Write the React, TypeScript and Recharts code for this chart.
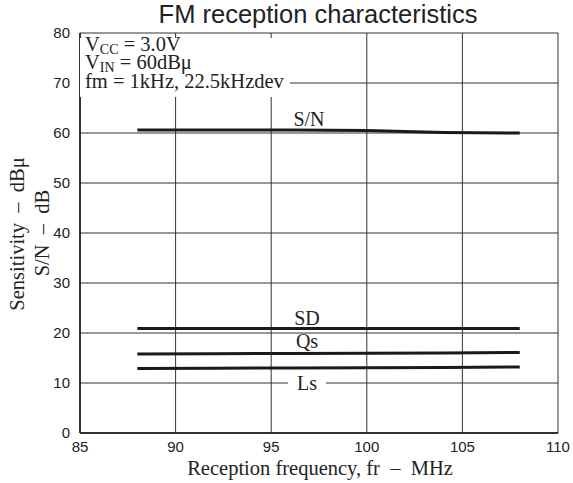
import { LineChart, Line, XAxis, YAxis, CartesianGrid } from "recharts";

const FREQ = [88, 92, 96, 100, 104, 108];
const SN = [60.6, 60.6, 60.6, 60.5, 60.1, 60.0];
const SD = [20.9, 20.9, 20.9, 20.9, 20.9, 20.9];
const QS = [15.8, 15.85, 15.9, 15.95, 16.0, 16.1];
const LS = [12.9, 12.95, 13.0, 13.05, 13.1, 13.2];

const X_TICKS = [85, 90, 95, 100, 105, 110];
const Y_TICKS = [0, 10, 20, 30, 40, 50, 60, 70, 80];

const chartData = FREQ.map((f, i) => ({
  freq: f,
  sn: SN[i],
  sd: SD[i],
  qs: QS[i],
  ls: LS[i],
}));

const SERIF = "'Liberation Serif', 'Times New Roman', serif";
const SANS = "'Liberation Sans', Arial, sans-serif";
const INK = "#1a1a1a";
const NB = "\u00a0";

export default function App() {
  return (
    <div style={{ position: "absolute", left: 0, top: 0, width: 573, height: 483, background: "#fff" }}>
      <LineChart
        width={573}
        height={483}
        data={chartData}
        margin={{ top: 33, right: 15, bottom: 0, left: 0 }}
      >
        <CartesianGrid stroke="#333" strokeWidth={1} />
        <XAxis
          dataKey="freq"
          type="number"
          domain={[85, 110]}
          ticks={X_TICKS}
          height={50}
          tickLine={false}
          axisLine={{ stroke: "#111", strokeWidth: 1.5 }}
          tick={{ fill: "#222", fontSize: 15, fontFamily: SANS }}
          tickMargin={2}
        />
        <YAxis
          type="number"
          domain={[0, 80]}
          ticks={Y_TICKS}
          width={80}
          tickLine={false}
          axisLine={{ stroke: "#111", strokeWidth: 1.5 }}
          tick={{ fill: "#222", fontSize: 15, fontFamily: SANS }}
          tickMargin={4}
        />
        <Line dataKey="sn" stroke={INK} strokeWidth={3} dot={false} isAnimationActive={false} />
        <Line dataKey="sd" stroke={INK} strokeWidth={3} dot={false} isAnimationActive={false} />
        <Line dataKey="qs" stroke={INK} strokeWidth={3} dot={false} isAnimationActive={false} />
        <Line dataKey="ls" stroke={INK} strokeWidth={3} dot={false} isAnimationActive={false} />
      </LineChart>
      <svg
        width={573}
        height={483}
        style={{ position: "absolute", left: 0, top: 0, pointerEvents: "none" }}
      >
        <text x={318} y={23} textAnchor="middle" fontFamily={SANS} fontSize={25.5} fill="#222">
          FM reception characteristics
        </text>

        {/* condition box, covers the grid behind it */}
        <rect x={80} y={38} width={210} height={59} fill="#fff" />
        <g fontFamily={SERIF} fontSize={20.5} fill="#222">
          <text x={85} y={51}>
            V<tspan fontSize={14} dy={3}>CC</tspan>
            <tspan dy={-3}>{" = 3.0V"}</tspan>
          </text>
          <text x={85} y={69}>
            V<tspan fontSize={14} dy={3}>IN</tspan>
            <tspan dy={-3}>{" = 60dBμ"}</tspan>
          </text>
          <text x={85} y={88}>fm = 1kHz, 22.5kHzdev</text>
        </g>

        {/* series labels */}
        <g fontFamily={SERIF} fontSize={20} fill="#222" textAnchor="middle">
          <text x={309} y={126}>S/N</text>
          <text x={307} y={325}>SD</text>
          <rect x={287} y={334} width={40} height={15} fill="#fff" />
          <text x={307} y={348}>Qs</text>
          <rect x={288} y={375} width={38} height={15} fill="#fff" />
          <text x={307} y={390}>Ls</text>
        </g>

        {/* axis titles */}
        <text x={320} y={475} textAnchor="middle" fontFamily={SERIF} fontSize={20.5} fill="#222">
          {`Reception frequency, fr${NB}${NB}–${NB}${NB}MHz`}
        </text>
        <g fontFamily={SERIF} fontSize={20.5} fill="#222" textAnchor="middle">
          <text transform="translate(24,234) rotate(-90)">{`Sensitivity${NB}${NB}–${NB}${NB}dBμ`}</text>
          <text transform="translate(49,233) rotate(-90)">{`S/N${NB}${NB}–${NB}${NB}dB`}</text>
        </g>
      </svg>
    </div>
  );
}
